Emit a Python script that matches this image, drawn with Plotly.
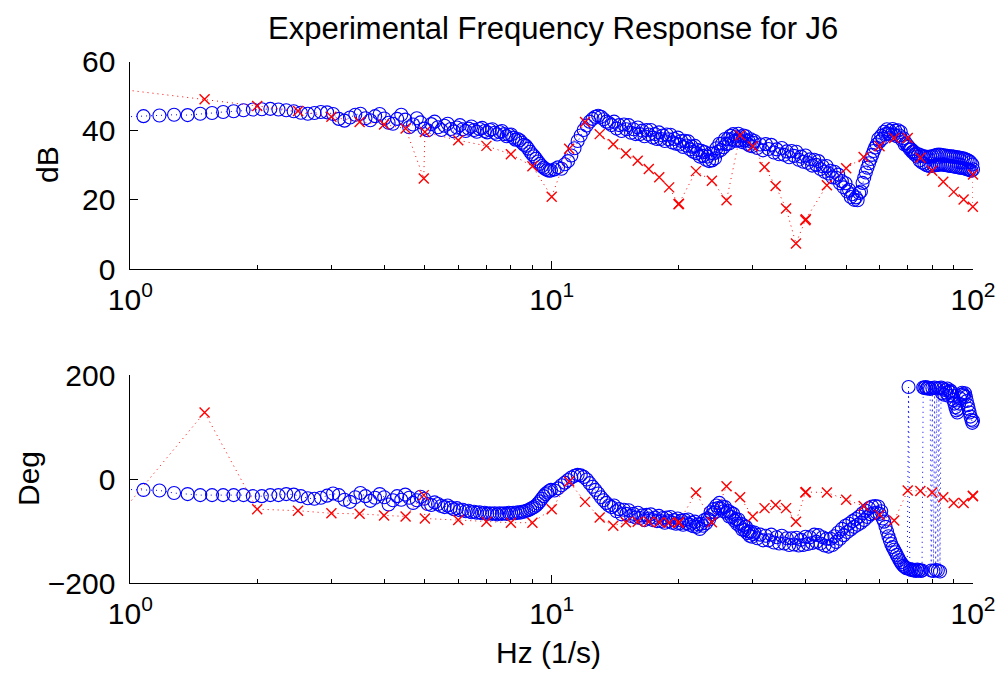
import plotly.graph_objects as go

# ---------------- data ----------------
DF = 100.0 / 1024.0  # frequency resolution of the measured response (Hz)

# FFT bin indices used for the measured (blue) response
bins_low = list(range(10, 103))          # ~1 .. 10 Hz
bins_mid = list(range(104, 310, 2))      # ~10 .. 30 Hz
bins_high = list(range(310, 1021, 5)) + [1024]  # ~30 .. 100 Hz

meas_db_low = [
    44.0, 44.2, 44.4, 44.6, 44.5, 44.9, 45.1, 45.4, 45.6, 45.9,
    46.1, 46.2, 46.3, 46.1, 45.9, 45.6, 45.2, 44.9, 45.1, 45.4,
    45.3, 44.8, 43.4, 42.9, 43.8, 44.6, 44.9, 43.6, 43.0, 44.2,
    44.8, 43.5, 42.3, 42.0, 43.4, 44.6, 43.2, 41.0, 41.8, 43.6,
    42.4, 40.6, 40.1, 41.9, 42.6, 41.0, 40.2, 41.4, 42.0, 40.5,
    39.8, 40.9, 41.6, 40.4, 39.9, 40.6, 41.2, 40.2, 39.7, 40.5,
    40.8, 39.9, 39.5, 40.2, 40.4, 39.4, 38.9, 39.6, 39.9, 39.0,
    38.4, 38.8, 38.9, 38.0, 37.4, 37.6, 37.2, 36.5, 35.9, 35.6,
    34.8, 33.9, 33.2, 32.6, 31.9, 31.1, 30.4, 29.8, 29.3, 28.9,
    28.6, 28.4, 28.5,
]
meas_db_mid = [
    28.8, 29.4, 29.0, 30.3, 31.2, 32.8, 34.9, 37.0, 38.6, 40.2,
    41.5, 42.6, 43.4, 44.0, 44.3, 44.0, 43.3, 42.6, 42.2, 41.6,
    42.6, 40.6, 41.6, 39.9, 41.8, 40.4, 41.6, 39.4, 40.4, 39.0,
    40.9, 39.0, 40.0, 38.4, 40.2, 38.9, 40.2, 38.0, 39.0, 37.6,
    39.5, 37.6, 38.6, 37.0, 38.9, 37.5, 38.8, 36.6, 37.6, 36.2,
    38.0, 36.0, 37.0, 35.3, 37.1, 35.7, 36.9, 34.6, 35.4, 33.9,
    35.6, 33.5, 34.4, 32.5, 34.2, 32.7, 33.8, 31.6, 32.5, 31.2,
    33.4, 31.4, 33.4, 32.0, 34.9, 33.9, 36.2, 34.4, 36.3, 35.2,
    37.6, 36.1, 37.6, 36.3, 38.5, 37.5, 39.0, 37.1, 38.3, 37.1,
    39.1, 37.2, 38.3, 36.7, 38.6, 37.2, 38.4, 36.2, 37.1, 35.7,
    37.5, 35.5, 36.5,
]
meas_db_high = [
    37.0, 35.0, 36.0, 34.3, 36.1, 34.7, 35.9, 33.7, 34.6, 33.2,
    35.0, 33.0, 34.0, 32.3, 34.1, 32.7, 33.9, 31.6, 32.5, 31.0,
    32.8, 30.7, 31.7, 29.9, 31.6, 30.1, 31.2, 28.9, 29.7, 28.1,
    29.8, 27.6, 28.4, 26.5, 28.1, 26.4, 27.3, 24.8, 25.4, 23.6,
    24.8, 22.4, 22.9, 20.8, 21.6, 20.0, 20.7, 19.9, 22.0, 22.4,
    24.9, 26.4, 27.9, 29.3, 30.6, 31.8, 33.0, 34.1, 35.1, 36.0,
    37.6, 36.9, 38.5, 37.7, 39.7, 39.0, 40.4, 39.1, 39.9, 38.8,
    40.5, 38.9, 40.0, 38.4, 40.1, 38.6, 39.6, 37.3, 37.8, 36.0,
    36.4, 35.6, 35.4, 34.6, 34.6, 33.8, 34.0, 33.1, 33.4, 32.5,
    33.2, 31.4, 32.9, 30.8, 32.6, 30.4, 32.5, 30.0, 32.4, 29.8,
    32.5, 29.8, 32.6, 29.9, 32.8, 30.0, 33.0, 30.1, 33.1, 30.2,
    33.0, 30.2, 32.9, 30.1, 32.8, 30.0, 32.7, 29.9, 32.6, 29.8,
    32.6, 29.7, 32.5, 29.6, 32.4, 29.5, 32.3, 29.4, 32.2, 29.3,
    32.1, 29.2, 32.0, 29.1, 31.8, 29.0, 31.6, 28.8, 31.3, 28.6,
    30.9, 28.4, 30.2, 28.8,
]

meas_deg_low = [
    -20, -21, -22, -27, -29, -31, -31, -31, -31, -31,
    -33, -33, -31, -31, -29, -30, -33, -37, -38, -36,
    -32, -28, -31, -40, -44, -35, -27, -33, -42, -36,
    -29, -35, -49, -41, -33, -40, -30, -36, -46, -41,
    -34, -38, -48, -50, -45, -48, -52, -54, -51, -55,
    -58, -56, -60, -59, -62, -61, -64, -63, -65, -64,
    -66, -65, -67, -66, -67, -66, -68, -66, -67, -66,
    -67, -65, -66, -65, -66, -64, -65, -63, -63, -61,
    -60, -58, -56, -54, -51, -47, -43, -38, -33, -29,
    -26, -23, -21,
]
meas_deg_mid = [
    -22, -18, -12, -7, -2, 3, 6, 8, 7, 4,
    -1, -8, -15, -21, -28, -35, -41, -46, -51, -54,
    -51, -62, -58, -68, -59, -67, -60, -71, -67, -74,
    -65, -75, -70, -79, -69, -76, -68, -79, -74, -81,
    -71, -81, -75, -84, -74, -81, -73, -84, -79, -86,
    -76, -85, -80, -88, -79, -85, -78, -88, -84, -91,
    -82, -92, -87, -96, -86, -90, -79, -85, -76, -78,
    -64, -68, -58, -64, -51, -56, -46, -57, -53, -62,
    -54, -65, -61, -72, -64, -73, -67, -80, -77, -86,
    -78, -90, -86, -97, -89, -98, -92, -104, -101, -109,
    -101, -111, -106,
]
meas_deg_high = [
    -103, -114, -107, -118, -109, -118, -107, -122, -112, -124,
    -109, -124, -114, -127, -114, -126, -113, -128, -117, -127,
    -111, -125, -112, -123, -107, -121, -108, -124, -112, -128,
    -115, -130, -115, -127, -110, -121, -103, -115, -96, -108,
    -90, -102, -86, -97, -81, -92, -77, -88, -72, -84,
    -66, -79, -61, -73, -56, -68, -53, -66, -52, -65,
    -53, -67, -62, -76, -82, -92, -101, -110, -118, -125,
    -131, -136, -141, -146, -151, -156, -160, -164, -167, -169,
    -171, -172, 177, -173, -175, -174, -176, -175, -177, -174,
    -176, -175, -177, -176, 176, 175, 177, 174, 176, 175,
    173, -176, 175, -177, 176, -175, 174, -176, 175, -178,
    176, 165, 174, 162, 171, 166, 174, 160, 168, 170,
    166, 160, 152, 145, 138, 132, 128, 135, 145, 155,
    162, 166, 163, 160, 165, 158, 150, 142, 135, 128,
    120, 114, 108, 112,
]

# model / estimate (red crosses)
est_hz = [0.5, 1.5, 2, 2.5, 3, 3.5, 4, 4.5, 4.97, 5,
          6, 7, 8, 9, 10, 11, 12, 13, 14, 15,
          16, 17, 18, 19, 20, 20.05, 22, 24, 26, 28,
          30, 32, 34, 36, 38, 40, 40.1, 45, 50, 55,
          60, 65, 70, 75, 80, 85, 90, 95, 99.9, 100]
est_db = [56.1, 49.1, 47.1, 45.7, 44.0, 42.5, 41.8, 40.6, 26.2, 39.6,
          37.2, 35.6, 33.2, 29.7, 20.9, 34.8, 42.5, 39.0, 36.1, 33.4,
          31.3, 28.9, 26.5, 23.6, 18.7, 18.9, 28.3, 25.5, 19.9, 38.7,
          35.5, 29.5, 24.0, 17.5, 7.4, 14.1, 14.4, 24.2, 29.1, 32.4,
          35.5, 37.9, 37.9, 32.2, 28.4, 25.2, 22.3, 20.1, 18.0, 27.3]
est_deg = [-337, 128, -58, -61, -66, -67, -70, -72, -31, -76,
           -79, -82, -84, -84, -58, -5, -44, -74, -90, -83,
           -82, -82, -83, -84, -84, -83, -26, -83, -14, -35,
           -72, -56, -50, -56, -82, -26, -25, -26, -40, -52,
           -69, -80, -22, -23, -26, -35, -46, -46, -32, -33]

x_tick_vals = [1, 10, 100]
x_tick_text = ["10<sup>0</sup>", "10<sup>1</sup>", "10<sup>2</sup>"]
x_minor_vals = [2, 3, 4, 5, 6, 7, 8, 9, 20, 30, 40, 50, 60, 70, 80, 90]
db_ticks = [0, 20, 40, 60]
deg_ticks = [-200, 0, 200]

# ---------------- assemble ----------------
meas_bins = bins_low + bins_mid + bins_high
meas_hz = [k * DF for k in meas_bins]
meas_db = meas_db_low + meas_db_mid + meas_db_high
meas_deg = meas_deg_low + meas_deg_mid + meas_deg_high
n = len(meas_hz)
if len(meas_db) != n or len(meas_deg) != n:
    raise SystemExit(f"length mismatch: hz={n} db={len(meas_db)} deg={len(meas_deg)}")
if not (len(est_hz) == len(est_db) == len(est_deg)):
    raise SystemExit("estimate length mismatch")

FONT = "Liberation Sans, Arial, Helvetica, sans-serif"
BLUE = "rgb(0,0,255)"
RED = "rgb(255,0,0)"
TICKSZ = 30

blue_marker = dict(symbol="circle-open", size=13, color=BLUE, line=dict(width=1.1, color=BLUE))
red_marker = dict(symbol="x-thin-open", size=10, color=RED, line=dict(width=1.4, color=RED))
blue_line = dict(color=BLUE, width=1, dash="1px,4px")
red_line = dict(color=RED, width=1, dash="1px,4px")

fig = go.Figure()
fig.add_trace(go.Scatter(x=meas_hz, y=meas_db, mode="lines+markers", marker=blue_marker,
                         line=blue_line, cliponaxis=False, xaxis="x", yaxis="y", showlegend=False))
fig.add_trace(go.Scatter(x=est_hz, y=est_db, mode="lines+markers", marker=red_marker,
                         line=red_line, cliponaxis=False, xaxis="x", yaxis="y", showlegend=False))
fig.add_trace(go.Scatter(x=meas_hz, y=meas_deg, mode="lines+markers", marker=blue_marker,
                         line=blue_line, cliponaxis=False, xaxis="x2", yaxis="y2", showlegend=False))
fig.add_trace(go.Scatter(x=est_hz, y=est_deg, mode="lines+markers", marker=red_marker,
                         line=red_line, cliponaxis=False, xaxis="x2", yaxis="y2", showlegend=False))

W, H = 1002, 673
XD = [130.4 / W, 973.0 / W]
Y1 = [1 - 269.0 / H, 1 - 61.5 / H]
Y2 = [1 - 583.0 / H, 1 - 375.0 / H]

def xax(anchor):
    return dict(type="log", range=[0, 2], domain=XD, anchor=anchor, automargin=False,
                showline=True, linecolor="black", linewidth=1, mirror=False,
                ticks="inside", ticklen=8, tickwidth=1, tickcolor="black",
                tickvals=x_tick_vals, ticktext=x_tick_text,
                tickfont=dict(family=FONT, size=TICKSZ, color="black"),
                minor=dict(tickvals=x_minor_vals, ticks="inside", ticklen=4,
                           tickwidth=1, tickcolor="black", showgrid=False),
                showgrid=False, zeroline=False, ticklabelstandoff=4, layer="below traces")

def yax(anchor, dom, rng, tv):
    return dict(range=rng, domain=dom, anchor=anchor, automargin=False,
                showline=True, linecolor="black", linewidth=1, mirror=False,
                ticks="inside", ticklen=8, tickwidth=1, tickcolor="black",
                tickvals=tv, tickfont=dict(family=FONT, size=TICKSZ, color="black"),
                showgrid=False, zeroline=False, ticklabelstandoff=8, layer="below traces")

fig.update_layout(
    width=W, height=H, margin=dict(l=0, r=0, t=0, b=0, autoexpand=False),
    paper_bgcolor="white", plot_bgcolor="white",
    xaxis=xax("y"), yaxis=yax("x", Y1, [0, 60], db_ticks),
    xaxis2=xax("y2"), yaxis2=yax("x2", Y2, [-200, 200], deg_ticks),
    font=dict(family=FONT, color="black"),
    annotations=[
        dict(text="Experimental Frequency Response for J6", x=553.0 / W, y=1 - 29.0 / H,
             xref="paper", yref="paper", showarrow=False, xanchor="center", yanchor="middle",
             font=dict(family=FONT, size=31, color="black")),
        dict(text="dB", x=47.0 / W, y=1 - 165.0 / H, xref="paper", yref="paper", textangle=-90,
             showarrow=False, xanchor="center", yanchor="middle",
             font=dict(family=FONT, size=30, color="black")),
        dict(text="Deg", x=28.0 / W, y=1 - 479.0 / H, xref="paper", yref="paper", textangle=-90,
             showarrow=False, xanchor="center", yanchor="middle",
             font=dict(family=FONT, size=30, color="black")),
        dict(text="Hz (1/s)", x=548.0 / W, y=1 - 652.0 / H, xref="paper", yref="paper",
             showarrow=False, xanchor="center", yanchor="middle",
             font=dict(family=FONT, size=30, color="black")),
    ],
)

fig.write_html("out.html")
